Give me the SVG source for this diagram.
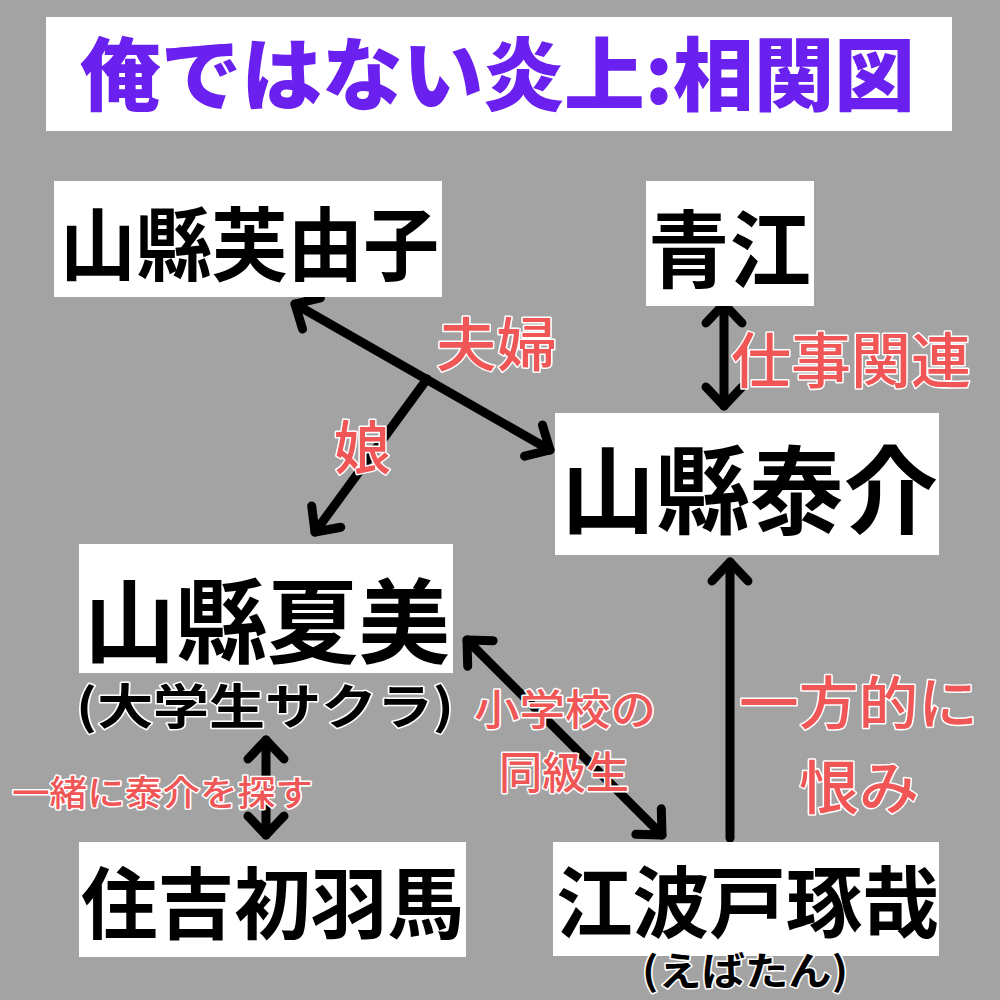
<svg xmlns="http://www.w3.org/2000/svg" width="1000" height="1000" viewBox="0 0 1000 1000">
<style>
.box{fill:#ffffff}
.name{font-family:"Noto Sans CJK JP","Noto Sans",sans-serif;font-weight:700;fill:#000}
.sub{font-family:"Noto Sans CJK JP","Noto Sans",sans-serif;font-weight:700;fill:#000;stroke:#fff;stroke-width:3;paint-order:stroke;stroke-linejoin:round}
.lbl{font-family:"Noto Sans CJK JP","Noto Sans",sans-serif;font-weight:500;fill:#f05656;stroke:#fff;stroke-width:3;paint-order:stroke;stroke-linejoin:round}
.title{font-family:"Noto Sans CJK JP","Noto Sans",sans-serif;font-weight:900;fill:#6a20ee}
.conn{fill:none;stroke:#000;stroke-width:9;stroke-linecap:round}
</style>
<defs>
<marker id="ah" viewBox="-30 -30 40 60" markerWidth="40" markerHeight="60" refX="0" refY="0" markerUnits="userSpaceOnUse" orient="auto-start-reverse" overflow="visible">
<path d="M-19,-18 L0,0 L-19,18" fill="none" stroke="#000" stroke-width="9" stroke-linecap="round" stroke-linejoin="round"/>
</marker>
</defs>
<rect width="1000" height="1000" fill="#a3a3a3"/>

<g id="title">
<rect class="box" x="46" y="17" width="906" height="114"/>
<text class="title" x="80" y="104" font-size="80" textLength="835" lengthAdjust="spacingAndGlyphs">俺ではない炎上:相関図</text>
</g>

<g id="connectors">
<line class="conn" x1="295" y1="304" x2="550" y2="450" marker-start="url(#ah)" marker-end="url(#ah)"/>
<line class="conn" x1="427" y1="379" x2="315" y2="532" marker-end="url(#ah)"/>
<line class="conn" x1="724" y1="304" x2="724" y2="406" marker-start="url(#ah)" marker-end="url(#ah)"/>
<line class="conn" x1="467" y1="640" x2="662" y2="835" marker-start="url(#ah)" marker-end="url(#ah)"/>
<line class="conn" x1="730" y1="838" x2="730" y2="562" marker-end="url(#ah)"/>
<line class="conn" x1="266" y1="740" x2="266" y2="835" marker-start="url(#ah)" marker-end="url(#ah)"/>
</g>

<g id="labels">
<text class="lbl" x="436" y="366" font-size="58" textLength="121" lengthAdjust="spacingAndGlyphs">夫婦</text>
<text class="lbl" x="334" y="469" font-size="58" textLength="57" lengthAdjust="spacingAndGlyphs">娘</text>
<text class="lbl" x="731" y="383" font-size="60" textLength="240" lengthAdjust="spacingAndGlyphs">仕事関連</text>
<text class="lbl" x="474" y="725" font-size="42" textLength="182" lengthAdjust="spacingAndGlyphs">小学校の</text>
<text class="lbl" x="499" y="789" font-size="44" textLength="130" lengthAdjust="spacingAndGlyphs">同級生</text>
<text class="lbl" x="739" y="724" font-size="57" textLength="239" lengthAdjust="spacingAndGlyphs">一方的に</text>
<text class="lbl" x="799" y="809" font-size="58" textLength="120" lengthAdjust="spacingAndGlyphs">恨み</text>
<text class="lbl" x="12" y="806" font-size="35" textLength="301" lengthAdjust="spacingAndGlyphs">一緒に泰介を探す</text>
</g>

<g id="fuyuko">
<rect class="box" x="54" y="181" width="388" height="116"/>
<text class="name" x="60" y="274" font-size="80" textLength="379" lengthAdjust="spacingAndGlyphs">山縣芙由子</text>
</g>

<g id="aoe">
<rect class="box" x="646" y="181" width="168" height="125"/>
<text class="name" x="648" y="281" font-size="84" textLength="163" lengthAdjust="spacingAndGlyphs">青江</text>
</g>

<g id="taisuke">
<rect class="box" x="555" y="413" width="384" height="142"/>
<text class="name" x="561" y="526" font-size="96" textLength="377" lengthAdjust="spacingAndGlyphs">山縣泰介</text>
</g>

<g id="natsumi">
<rect class="box" x="79" y="544" width="374" height="129"/>
<text class="name" x="84" y="656" font-size="92" textLength="366" lengthAdjust="spacingAndGlyphs">山縣夏美</text>
<text class="sub" x="76" y="724" font-size="48" textLength="378" lengthAdjust="spacingAndGlyphs">(大学生サクラ)</text>
</g>

<g id="uma">
<rect class="box" x="79" y="842" width="387" height="115"/>
<text class="name" x="81" y="933" font-size="78" textLength="383" lengthAdjust="spacingAndGlyphs">住吉初羽馬</text>
</g>

<g id="ebato">
<rect class="box" x="553" y="842" width="386" height="114"/>
<text class="name" x="556" y="932" font-size="78" textLength="383" lengthAdjust="spacingAndGlyphs">江波戸琢哉</text>
<text class="sub" x="642" y="985" font-size="39" textLength="206" lengthAdjust="spacingAndGlyphs">(えばたん)</text>
</g>
</svg>
